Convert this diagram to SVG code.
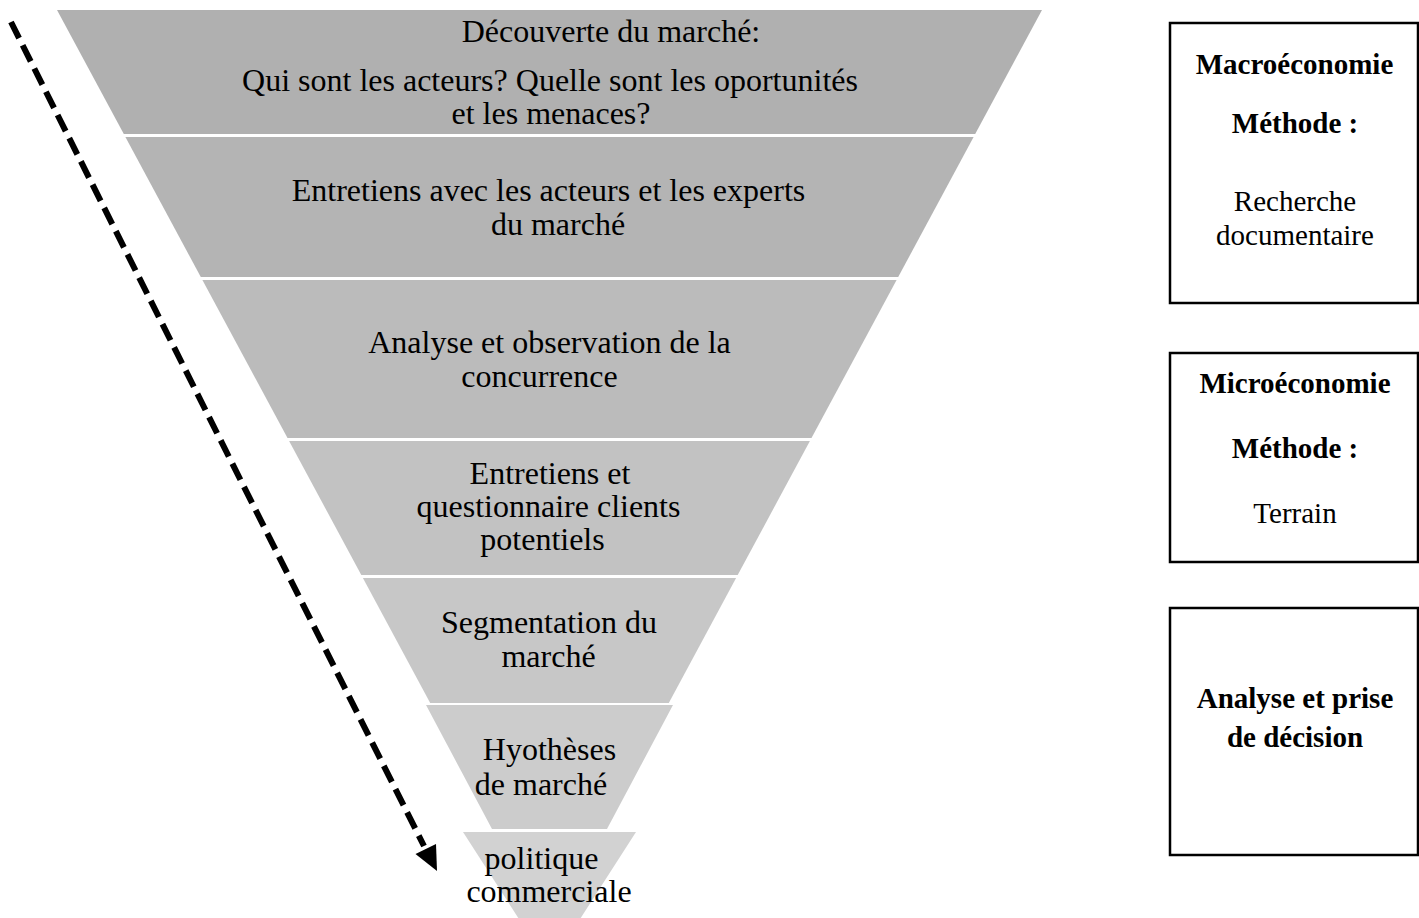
<svg xmlns="http://www.w3.org/2000/svg" width="1419" height="918" viewBox="0 0 1419 918">
<style>
.t{font-family:"Liberation Serif","Times New Roman",serif;font-size:32px;fill:#000;text-anchor:middle}
.b{font-family:"Liberation Serif","Times New Roman",serif;font-size:29px;fill:#000;text-anchor:middle}
.bb{font-weight:bold}
.box{fill:#fff;stroke:#000;stroke-width:2.5}
</style>
<rect width="1419" height="918" fill="#fff"/>
<g id="band1"><polygon points="57,10 1042,10 975.2,134 123.8,134" fill="#b0b0b0"/>
<text class="t" x="611" y="42">Découverte du marché:</text>
<text class="t" x="550" y="91">Qui sont les acteurs? Quelle sont les oportunités</text>
<text class="t" x="551" y="124">et les menaces?</text></g>
<g id="band2"><polygon points="125.4,137 973.6,137 898.2,277 200.8,277" fill="#b4b4b4"/>
<text class="t" x="548.5" y="201">Entretiens avec les acteurs et les experts</text>
<text class="t" x="558" y="235">du marché</text></g>
<g id="band3"><polygon points="202.4,280 896.6,280 811.5,438 287.5,438" fill="#bbbbbb"/>
<text class="t" x="549.5" y="353">Analyse et observation de la</text>
<text class="t" x="539.5" y="387">concurrence</text></g>
<g id="band4"><polygon points="289.1,441 809.9,441 737.7,575 361.3,575" fill="#c2c2c2"/>
<text class="t" x="550" y="484">Entretiens et</text>
<text class="t" x="548.5" y="517">questionnaire clients</text>
<text class="t" x="542.5" y="550">potentiels</text></g>
<g id="band5"><polygon points="362.9,578 736.1,578 668.8,703 430.2,703" fill="#c7c7c7"/>
<text class="t" x="549" y="633">Segmentation du</text>
<text class="t" x="548.5" y="667">marché</text></g>
<g id="band6"><polygon points="426,705 673,705 607,829 492,829" fill="#cccccc"/>
<text class="t" x="549.5" y="760">Hyothèses</text>
<text class="t" x="541" y="795">de marché</text></g>
<g id="band7"><polygon points="463,832 636,832 573,930 526,930" fill="#d2d2d2"/>
<text class="t" x="541.5" y="869">politique</text>
<text class="t" x="549" y="902">commerciale</text></g>
<g id="connectors">
<line x1="11" y1="22" x2="424" y2="846" stroke="#000" stroke-width="6" stroke-dasharray="18 8"/>
<polygon points="437,871 436,844 415.5,854" fill="#000"/>
</g>
<g id="box-macro"><rect class="box" x="1170" y="23" width="248" height="280"/>
<text class="b bb" x="1294.5" y="74">Macroéconomie</text>
<text class="b bb" x="1295" y="133">Méthode :</text>
<text class="b" x="1295" y="211">Recherche</text>
<text class="b" x="1295" y="245">documentaire</text></g>
<g id="box-micro"><rect class="box" x="1170" y="353" width="248" height="209"/>
<text class="b bb" x="1295" y="393">Microéconomie</text>
<text class="b bb" x="1295" y="458">Méthode :</text>
<text class="b" x="1295" y="523">Terrain</text></g>
<g id="box-decision"><rect class="box" x="1170" y="608" width="248" height="247"/>
<text class="b bb" x="1295" y="708">Analyse et prise</text>
<text class="b bb" x="1295" y="747">de décision</text></g>
</svg>
